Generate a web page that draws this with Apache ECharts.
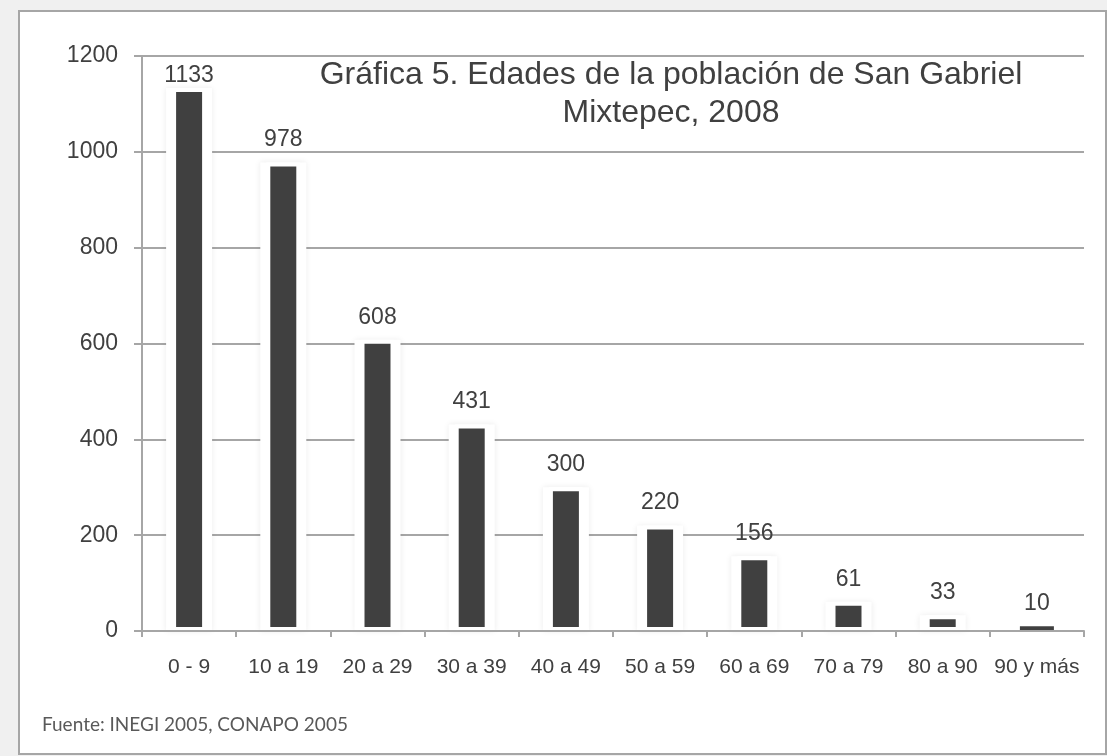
<!DOCTYPE html>
<html>
<head>
<meta charset="utf-8">
<script src="https://cdn.jsdelivr.net/npm/echarts@6/dist/echarts.min.js"></script>
<style>
  html, body { margin: 0; padding: 0; background: #f0f0f0; }
  #main { width: 1107px; height: 756px; }
</style>
</head>
<body>
<div id="main"></div>
<script>
// datos de la gráfica
let categories = ['0 - 9', '10 a 19', '20 a 29', '30 a 39', '40 a 49', '50 a 59', '60 a 69', '70 a 79', '80 a 90', '90 y más'];
let values = [1133, 978, 608, 431, 300, 220, 156, 61, 33, 10];
let yTicks = [0, 200, 400, 600, 800, 1000, 1200];

let yMax = yTicks[yTicks.length - 1];

let chart = echarts.init(document.getElementById('main'));

// barras muy bajas sin borde blanco ni halo, etiqueta alta se baja un poco
let barData = values.map(function (v) {
    let item = { value: v };
    if (v < 20) item.itemStyle = { borderWidth: 0 };
    if (v > yMax * 0.92) item.label = { distance: 1 };
    return item;
});
let haloData = values.map(function (v) {
    return v < 20 ? { value: v, itemStyle: { opacity: 0 } } : v;
});

let option = {
    backgroundColor: '#f0f0f0',
    animation: false,
    graphic: [{
        type: 'rect',
        z: -10,
        shape: { x: 19, y: 11, width: 1087, height: 743 },
        style: { fill: '#ffffff', stroke: '#a6a6a6', lineWidth: 2 }
    }, {
        type: 'text',
        left: 42,
        top: 715,
        style: {
            text: 'Fuente: INEGI 2005, CONAPO 2005',
            fontFamily: 'Lato',
            fontSize: 19,
            fill: '#595959'
        }
    }],
    title: {
        text: 'Gráfica 5. Edades de la población de San Gabriel\nMixtepec, 2008',
        left: 666,
        top: 51,
        textAlign: 'center',
        textStyle: {
            fontFamily: 'Liberation Sans',
            fontSize: 32,
            fontWeight: 'normal',
            color: '#404040',
            lineHeight: 38
        }
    },
    grid: { left: 142, right: 23, top: 56, bottom: 125 },
    xAxis: [{
        type: 'category',
        data: categories,
        z: 5,
        axisLine: { lineStyle: { color: '#a6a6a6', width: 2 } },
        axisTick: { show: true, length: 6, lineStyle: { color: '#a6a6a6', width: 2 } },
        axisLabel: {
            margin: 26,
            fontFamily: 'Liberation Sans',
            fontSize: 21,
            color: '#404040',
            interval: 0
        }
    }, {
        // eje oculto para el halo blanco de las barras
        type: 'category',
        data: categories,
        position: 'bottom',
        show: false
    }],
    yAxis: {
        type: 'value',
        min: yTicks[0],
        max: yMax,
        interval: 200,
        axisLine: { show: true, lineStyle: { color: '#a6a6a6', width: 2 } },
        axisTick: { show: true, length: 8, lineStyle: { color: '#a6a6a6', width: 2 } },
        splitLine: { lineStyle: { color: '#a6a6a6', width: 2 } },
        axisLabel: {
            margin: 24,
            fontFamily: 'Liberation Sans',
            fontSize: 23,
            color: '#404040',
            formatter: function (v) { return String(v); }
        }
    },
    series: [{
        type: 'bar',
        xAxisIndex: 1,
        data: haloData,
        barWidth: 46,
        silent: true,
        z: 1,
        itemStyle: {
            color: '#ffffff',
            shadowColor: 'rgba(0,0,0,0.08)',
            shadowBlur: 6
        }
    }, {
        type: 'bar',
        xAxisIndex: 0,
        data: barData,
        barWidth: 34,
        z: 2,
        itemStyle: {
            color: '#404040',
            borderColor: '#ffffff',
            borderWidth: 4
        },
        label: {
            show: true,
            position: 'top',
            distance: 11,
            fontFamily: 'Liberation Sans',
            fontSize: 23,
            color: '#404040'
        }
    }]
};

chart.setOption(option);
</script>
</body>
</html>
